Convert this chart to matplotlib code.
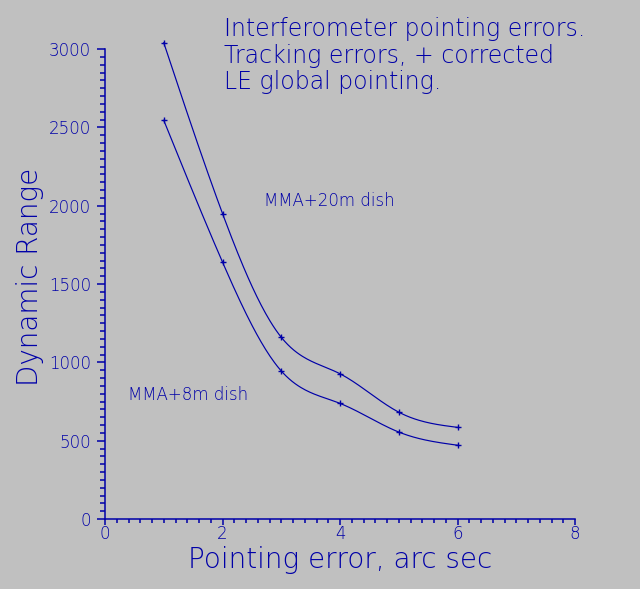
import numpy as np
import matplotlib
matplotlib.use("Agg")
import matplotlib.pyplot as plt
from matplotlib.ticker import MultipleLocator

x_err = [1, 2, 3, 4, 5, 6]
dr_20m = [3040, 1950, 1160, 927, 682, 585]
dr_8m = [2545, 1640, 945, 738, 555, 471]
label_20m = "MMA+20m dish"
label_8m = "MMA+8m dish"
title_lines = ["Interferometer pointing errors.",
               "Tracking errors, + corrected",
               "LE global pointing."]

BG = "#c0c0c0"
BLUE = "#0000a8"

plt.rcParams["font.family"] = ["DejaVu Sans"]
plt.rcParams["font.weight"] = 200
plt.rcParams["axes.labelweight"] = 200


def natural_spline(x, y, n=200):
    x = np.asarray(x, float); y = np.asarray(y, float)
    m = len(x)
    h = np.diff(x)
    A = np.zeros((m, m)); r = np.zeros(m)
    A[0, 0] = 1; A[-1, -1] = 1
    for i in range(1, m - 1):
        A[i, i - 1] = h[i - 1]
        A[i, i] = 2 * (h[i - 1] + h[i])
        A[i, i + 1] = h[i]
        r[i] = 3 * ((y[i + 1] - y[i]) / h[i] - (y[i] - y[i - 1]) / h[i - 1])
    c = np.linalg.solve(A, r)
    xs = np.linspace(x[0], x[-1], n)
    ys = np.empty_like(xs)
    for k, xv in enumerate(xs):
        i = min(np.searchsorted(x, xv, side="right") - 1, m - 2)
        b = (y[i + 1] - y[i]) / h[i] - h[i] * (c[i + 1] + 2 * c[i]) / 3
        d = (c[i + 1] - c[i]) / (3 * h[i])
        t = xv - x[i]
        ys[k] = y[i] + b * t + c[i] * t ** 2 + d * t ** 3
    return xs, ys


fig = plt.figure(figsize=(6.4, 5.89), dpi=100, facecolor=BG)
ax = fig.add_axes([105 / 640, 1 - 519 / 589, 470 / 640, 470 / 589])
ax.set_facecolor(BG)

for ys in (dr_20m, dr_8m):
    sx, sy = natural_spline(x_err, ys)
    ax.plot(sx, sy, color=BLUE, lw=0.85, clip_on=False)
    ax.plot(x_err, ys, ls="none", marker="+", ms=5, mew=1.0, color=BLUE,
            clip_on=False)

ax.set_xlim(0, 8)
ax.set_ylim(0, 3000)
for s in ("top", "right"):
    ax.spines[s].set_visible(False)
for s in ("left", "bottom"):
    ax.spines[s].set_color(BLUE)
    ax.spines[s].set_linewidth(1.1)

ax.xaxis.set_major_locator(MultipleLocator(2))
ax.xaxis.set_minor_locator(MultipleLocator(0.2))
ax.yaxis.set_major_locator(MultipleLocator(500))
ax.yaxis.set_minor_locator(MultipleLocator(50))
ax.tick_params(which="both", colors=BLUE, direction="out", width=1.1,
               labelsize=12)
ax.tick_params(axis="y", which="major", length=6, pad=4)
ax.tick_params(axis="y", which="minor", length=3.6)
ax.tick_params(axis="x", which="major", length=4.5, pad=0)
ax.tick_params(axis="x", which="minor", length=3)

ax.set_xlabel("Pointing error, arc sec", color=BLUE, fontsize=20,
              fontweight=200)
ax.xaxis.set_label_coords(0.5, -0.0574)
ax.set_ylabel("Dynamic Range", color=BLUE, fontsize=20, fontweight=200)
ax.yaxis.set_label_coords(-0.13, 0.515)

for i, line in enumerate(title_lines):
    fig.text(224 / 640, 1 - (36 + 26.7 * i) / 589, line, color=BLUE,
             fontsize=17, va="baseline", ha="left", fontweight=200)

ax.text(2.7, 2030, label_20m, color=BLUE, fontsize=12, va="center",
        fontweight=200)
ax.text(0.39, 790, label_8m, color=BLUE, fontsize=12, va="center",
        fontweight=200)

fig.savefig("out.png", dpi=100, facecolor=BG)
